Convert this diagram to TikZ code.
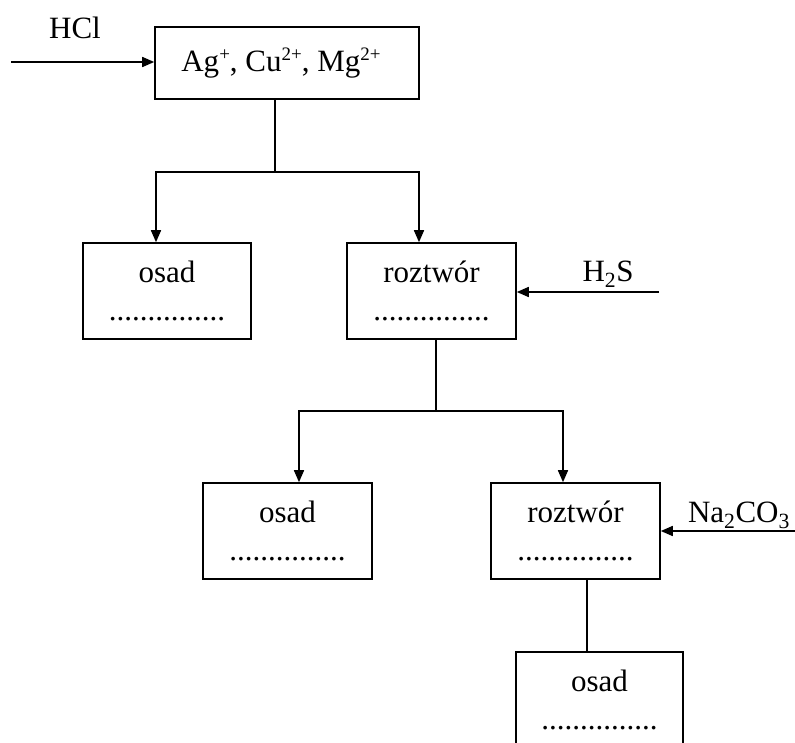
\documentclass[tikz,border=0pt]{standalone}
\usepackage{fontspec}
\setmainfont{Liberation Serif}
\usetikzlibrary{arrows.meta}
\newcommand\mysup[1]{\raisebox{11pt}{\fontsize{19}{19}\selectfont #1}}
\tikzset{
  box/.style={draw, line width=1.6pt, rectangle, inner sep=0pt, align=center,
    font=\fontsize{31}{38}\selectfont},
  lbl/.style={inner sep=0pt, font=\fontsize{31}{38}\selectfont},
  conn/.style={line width=1.6pt},
  arr/.style={line width=1.6pt, -{Triangle[length=12pt,width=10pt]}}
}
\begin{document}
\begin{tikzpicture}[x=1pt,y=-1pt]
\clip (0,0) rectangle (795,742);
\fill[white] (0,0) rectangle (795,742);
\node[box, minimum width=264pt, minimum height=72pt] (top) at (287,63)
  {\hspace*{-12pt}Ag\mysup{+}, Cu\mysup{2+}, Mg\mysup{2+}};
\node[box, minimum width=168pt, minimum height=96pt] (osad1) at (167,291)
  {osad\\...............};
\node[box, minimum width=169pt, minimum height=96pt] (roz1) at (431.5,291)
  {roztwór\\...............};
\node[box, minimum width=169pt, minimum height=96pt] (osad2) at (287.5,531)
  {osad\\...............};
\node[box, minimum width=169pt, minimum height=96pt] (roz2) at (575.5,531)
  {roztwór\\...............};
\node[box, minimum width=167pt, minimum height=96pt] (osad3) at (599.5,700)
  {osad\\...............};
\node[lbl] (hcl) at (75,28) {HCl};
\node[lbl] (h2s) at (608,274) {H\textsubscript{2}S};
\node[lbl] (na) at (739,515) {Na\textsubscript{2}CO\textsubscript{3}};
% inputs
\coordinate (hclstart) at (11,62);
\draw[arr] (hclstart) -- (hclstart -| top.west);
\coordinate (h2sstart) at (659,292);
\draw[arr] (h2sstart) -- (h2sstart -| roz1.east);
\coordinate (nastart) at (795,531);
\draw[arr] (nastart) -- (nastart -| roz2.east);
% first split
\coordinate (j1) at (275,172);
\draw[conn] (top.south -| j1) -- (j1);
\draw[arr] (j1) -| ([xshift=-11pt]osad1.north);
\draw[arr] (j1) -| ([xshift=-12.5pt]roz1.north);
% second split
\coordinate (j2) at (436,411);
\draw[conn] (roz1.south -| j2) -- (j2);
\draw[arr] (j2) -| ([xshift=11.5pt]osad2.north);
\draw[arr] (j2) -| ([xshift=-12.5pt]roz2.north);
% third
\coordinate (j3) at (587,579);
\draw[conn] (roz2.south -| j3) -- (osad3.north -| j3);
\end{tikzpicture}
\end{document}
